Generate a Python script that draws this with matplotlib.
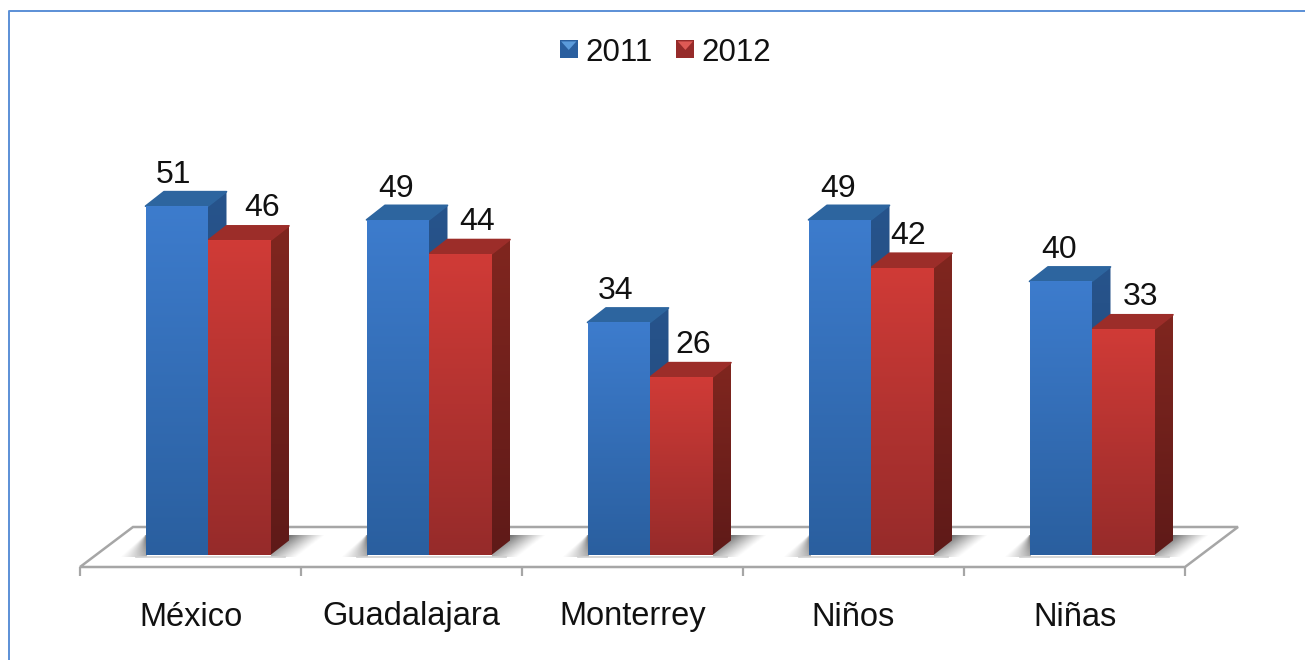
import numpy as np
import matplotlib
matplotlib.use("Agg")
import matplotlib.pyplot as plt
from matplotlib.patches import Polygon, Rectangle
from matplotlib.legend_handler import HandlerBase
from matplotlib.colors import LinearSegmentedColormap

categories = ["México", "Guadalajara", "Monterrey", "Niños", "Niñas"]
years = ["2011", "2012"]
values_2011 = [51, 49, 34, 49, 40]
values_2012 = [46, 44, 26, 42, 33]

plt.rcParams["font.family"] = ["Liberation Sans", "DejaVu Sans"]

W, H = 1305, 660
PX_X = 221.0          # pixels per category
PX_Y = 6.84           # pixels per unit
X0, Y0 = 190.5, 555.0 # pixel position of category 0 / value 0
DX, DY = 18.5 / PX_X, 14.5 / PX_Y   # 3-D depth in data units
SHIFT = 17.5 / PX_X
BW = 62.5 / PX_X

fig = plt.figure(figsize=(W / 100, H / 100), dpi=100, facecolor="white")
ax = fig.add_axes([0, 0, 1, 1])
ax.set_xlim((0 - X0) / PX_X, (W - X0) / PX_X)
ax.set_ylim((Y0 - H) / PX_Y, Y0 / PX_Y)
ax.axis("off")

STYLES = {
    "2011": dict(front_top="#3D7CCD", front_bot="#2A5F9F", side_top="#27548C", side_bot="#1F4474",
                 top="#2D659F", light="#5B9BDB"),
    "2012": dict(front_top="#D03B37", front_bot="#962B2A", side_top="#80261F", side_bot="#5F1A18",
                 top="#9C2D29", light="#DE5A55"),
}


def gradient(poly, c_top, c_bot, y0, y1, z):
    cmap = LinearSegmentedColormap.from_list("g", [c_bot, c_top])
    xs = poly[:, 0]
    im = ax.imshow(np.linspace(1, 0, 128)[:, None], cmap=cmap, aspect="auto",
                   extent=[xs.min(), xs.max(), y0, y1], zorder=z, interpolation="bilinear")
    patch = Polygon(poly, closed=True, transform=ax.transData, fc="none", ec="none")
    ax.add_patch(patch)
    im.set_clip_path(patch)


def soft_shadow(x_min, x_max, lo, hi, inner, outer, z=1.5):
    """Grey shade over [x_min, x_max]x[lo, hi]. inner/outer give the x of the dark
    and of the clear edge at the bottom and at the top of the shade."""
    nx, ny = 80, 40
    xx, yy = np.meshgrid(np.linspace(x_min, x_max, nx), np.linspace(hi, lo, ny))
    f = (yy - lo) / (hi - lo)
    xi = inner[0] + (inner[1] - inner[0]) * f
    xo = outer[0] + (outer[1] - outer[0]) * f
    s = np.clip((xx - xi) / (xo - xi), 0, 1)
    rgba = np.zeros((ny, nx, 4))
    rgba[..., :3] = 0.42
    rgba[..., 3] = 0.95 * (1 - s) ** 1.1 * (0.55 + 0.45 * f)
    ax.imshow(rgba, aspect="auto", zorder=z, interpolation="bilinear",
              extent=[x_min, x_max, lo, hi])


# floor
FLOOR = -12 / PX_Y
grey = "#A6A6A6"
fx0, fx1 = -0.5, len(categories) - 0.5
floor = np.array([[fx0, FLOOR], [fx1, FLOOR], [fx1 + 53 / PX_X, FLOOR + 40 / PX_Y], [fx0 + 53 / PX_X, FLOOR + 40 / PX_Y]])
ax.add_patch(Polygon(floor, closed=True, fc="white", ec=grey, lw=1.8, zorder=1, joinstyle="miter"))
for t in np.arange(len(categories) + 1) - 0.5:
    ax.plot([t, t], [FLOOR, FLOOR - 9 / PX_Y], color=grey, lw=1.6, zorder=1, solid_capstyle="butt")

# bars
for i in range(len(categories)):
    c = i + SHIFT
    # shadows on the floor
    lo, hi = -2 / PX_Y, 20 / PX_Y
    xl, xr = c - BW, c + BW
    soft_shadow(xl - 26 / PX_X, xl + 1 / PX_X, lo, hi,
                (xl, xl), (xl - 26 / PX_X, xl - 1 / PX_X))
    soft_shadow(xr, xr + 54 / PX_X, lo, hi,
                (xr, xr + 19 / PX_X), (xr + 26 / PX_X, xr + 54 / PX_X))
    ax.plot([xl - 10 / PX_X, xr + 14 / PX_X], [-2 / PX_Y] * 2, color="#D0D0D0", lw=1.2, zorder=1.6)

    for k, (yr, vals, x0) in enumerate(zip(years, (values_2011, values_2012), (c - BW, c))):
        v = vals[i]
        s = STYLES[yr]
        z = 2 + i + k * 0.1
        x1 = x0 + BW
        side = np.array([[x1, 0], [x1 + DX, DY], [x1 + DX, v + DY], [x1, v]])
        gradient(side, s["side_top"], s["side_bot"], 0, v + DY, z)
        top = np.array([[x0, v], [x0 + DX, v + DY], [x1 + DX, v + DY], [x1, v]])
        ax.add_patch(Polygon(top, closed=True, fc=s["top"], ec=s["top"], lw=1.2, joinstyle="round", zorder=z + 0.01))
    for k, (yr, vals, x0) in enumerate(zip(years, (values_2011, values_2012), (c - BW, c))):
        v = vals[i]
        s = STYLES[yr]
        z = 2.5 + i + k * 0.1
        ax.bar(x0, v, width=BW, align="edge", color=s["front_bot"], zorder=z, lw=0)
        poly = np.array([[x0, 0], [x0 + BW, 0], [x0 + BW, v], [x0, v]])
        gradient(poly, s["front_top"], s["front_bot"], 0, v, z + 0.01)

# value labels
dx_2011 = [-3, -2, -3, -2, -2]
dx_2012 = [23, 17, 11.5, 6, 17]
for i in range(len(categories)):
    c = i + SHIFT
    ax.text(c - BW / 2 + dx_2011[i] / PX_X, values_2011[i] + 31 / PX_Y, str(values_2011[i]),
            ha="center", va="center", fontsize=23, color="#111111", zorder=20)
    ax.text(c + BW / 2 + dx_2012[i] / PX_X, values_2012[i] + 32 / PX_Y, str(values_2012[i]),
            ha="center", va="center", fontsize=23, color="#111111", zorder=20)
    ax.text(i, -62 / PX_Y, categories[i], ha="center", va="center", fontsize=23.5, color="#111111", zorder=20)


# legend swatches
class Swatch:
    def __init__(self, yr):
        self.yr = yr


class SwatchHandler(HandlerBase):
    def create_artists(self, legend, orig, xd, yd, width, height, fontsize, trans):
        s = STYLES[orig.yr]
        w = 13.0
        x = width - w
        y = (height - w) / 2
        a = Rectangle((x, y), w, w, fc=s["front_bot"], ec="none", transform=trans)
        b = Polygon([[x + 1, y + w - 1], [x + w - 1, y + w - 1], [x + w / 2, y + w * 0.45]], closed=True,
                    fc=s["light"], ec="none", transform=trans)
        return [a, b]


leg = ax.legend([Swatch(y) for y in years], years, handler_map={Swatch: SwatchHandler()},
                loc="center", bbox_to_anchor=(665.5 / W, 1 - 53 / H), bbox_transform=fig.transFigure,
                frameon=False, ncol=2, fontsize=22.5, handlelength=0.58, handleheight=0.8,
                handletextpad=0.23, columnspacing=0.77, labelcolor="#111111", borderpad=0, borderaxespad=0)
leg.set_zorder(30)

# chart frame
frame = "#5B8FD6"
fig.add_artist(plt.Line2D([8.5 / W, 8.5 / W, 1], [0, 1 - 11 / H, 1 - 11 / H], color=frame, lw=1.4, transform=fig.transFigure))

fig.savefig("out.png", dpi=100, facecolor="white")
